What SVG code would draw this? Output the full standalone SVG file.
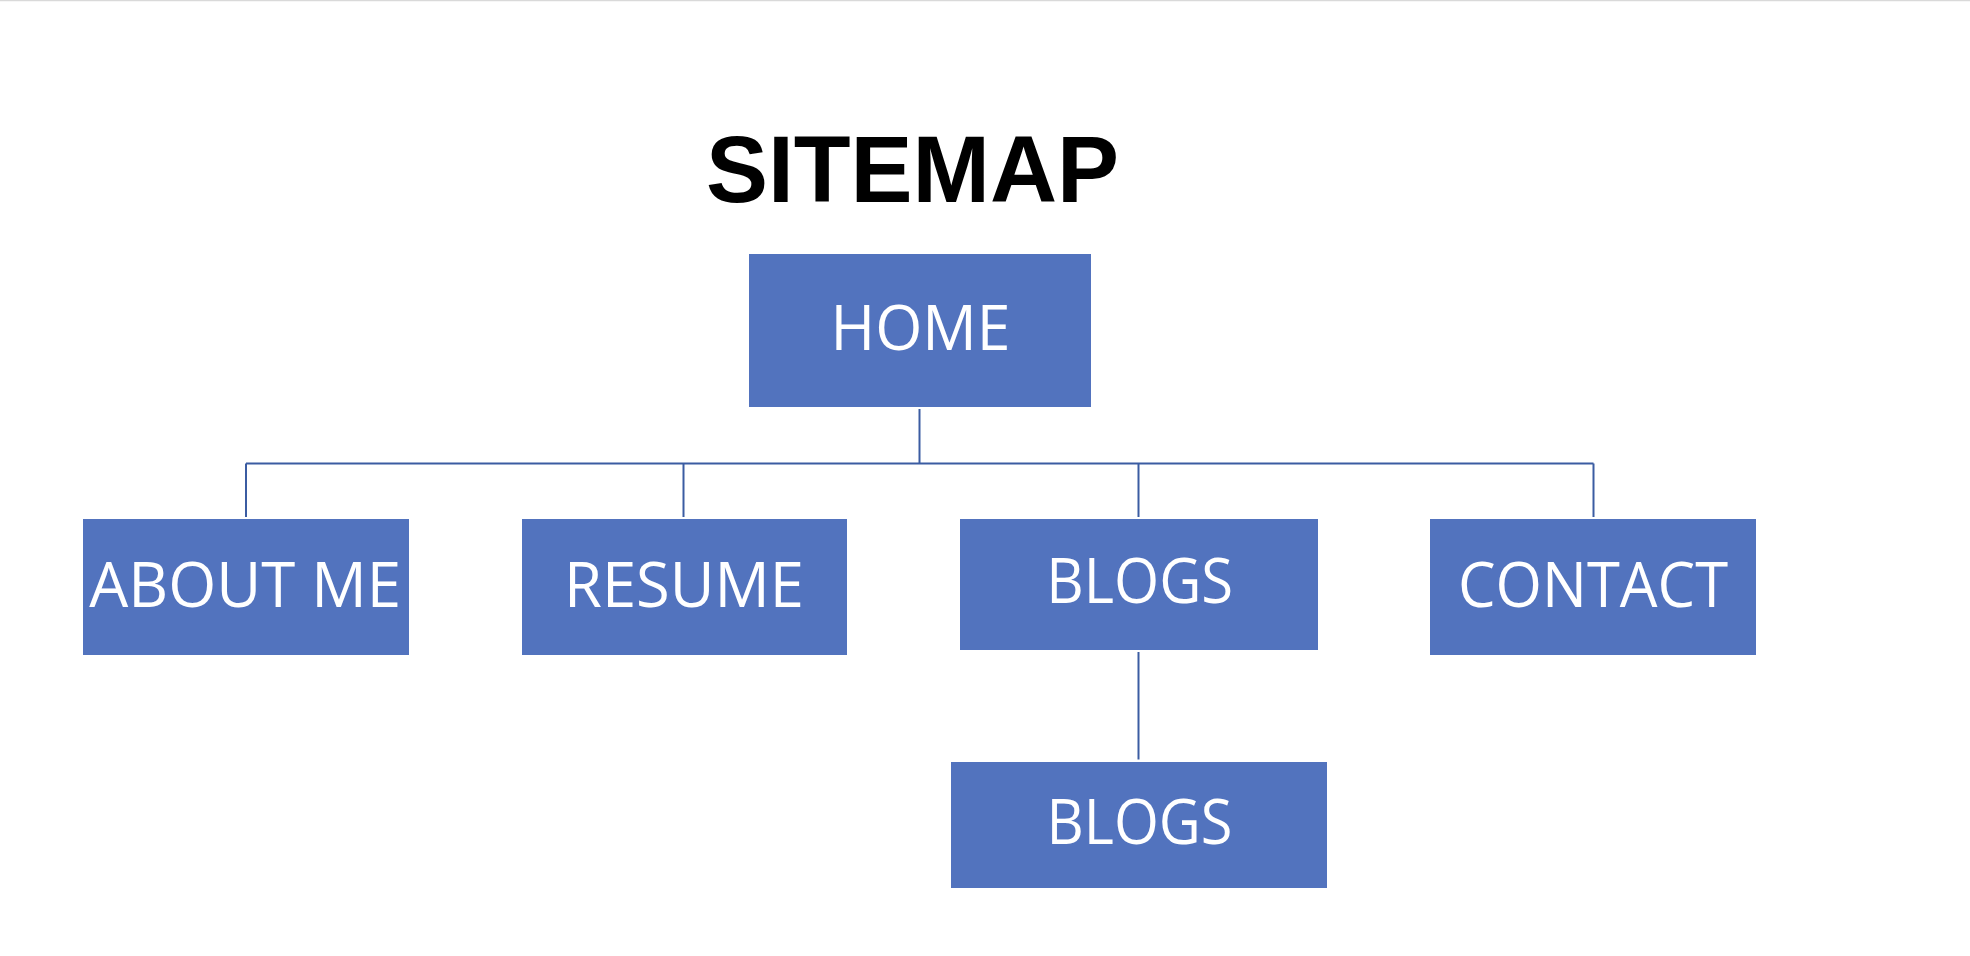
<svg xmlns="http://www.w3.org/2000/svg" width="1970" height="956" viewBox="0 0 1970 956">
<style>
.box{fill:#5273BE}
.lbl{font-family:"Open Sans","Noto Sans","Liberation Sans",sans-serif;font-size:62px;fill:#FFFFFF;text-anchor:middle}
.title{font-family:"Liberation Sans",Arial,sans-serif;font-weight:bold;font-size:95px;fill:#000000;text-anchor:middle}
.conn{stroke:#3B5CA2;stroke-width:2;fill:none}
</style>
<rect x="0" y="0" width="1970" height="956" fill="#FFFFFF"/>
<line x1="0" y1="0.5" x2="1970" y2="0.5" stroke="#D9D9D9" stroke-width="1.5"/>
<text class="title" x="912.5" y="202" textLength="413" lengthAdjust="spacingAndGlyphs">SITEMAP</text>
<g id="connectors">
<path class="conn" d="M919.5 409 V463.5"/>
<path class="conn" d="M246 463.5 H1593.5"/>
<path class="conn" d="M246 463.5 V517"/>
<path class="conn" d="M683.5 463.5 V517"/>
<path class="conn" d="M1138.5 463.5 V517"/>
<path class="conn" d="M1593.5 463.5 V517"/>
<path class="conn" d="M1138.5 652 V759.5"/>
</g>
<g id="home">
<rect class="box" x="749" y="254" width="342" height="153"/>
<text class="lbl" x="920.5" y="350" textLength="180" lengthAdjust="spacingAndGlyphs">HOME</text>
</g>
<g id="about">
<rect class="box" x="83" y="519" width="326" height="136"/>
<text class="lbl" x="245.2" y="606.7" textLength="312" lengthAdjust="spacingAndGlyphs">ABOUT ME</text>
</g>
<g id="resume">
<rect class="box" x="522" y="519" width="325" height="136"/>
<text class="lbl" x="684" y="606.7" textLength="240" lengthAdjust="spacingAndGlyphs">RESUME</text>
</g>
<g id="blogs">
<rect class="box" x="960" y="519" width="358" height="131"/>
<text class="lbl" x="1139.7" y="603.3" textLength="187" lengthAdjust="spacingAndGlyphs">BLOGS</text>
</g>
<g id="contact">
<rect class="box" x="1430" y="519" width="326" height="136"/>
<text class="lbl" x="1593" y="606.7" textLength="270" lengthAdjust="spacingAndGlyphs">CONTACT</text>
</g>
<g id="blogs2">
<rect class="box" x="951" y="762" width="376" height="126"/>
<text class="lbl" x="1139.5" y="844" textLength="186" lengthAdjust="spacingAndGlyphs">BLOGS</text>
</g>
</svg>
